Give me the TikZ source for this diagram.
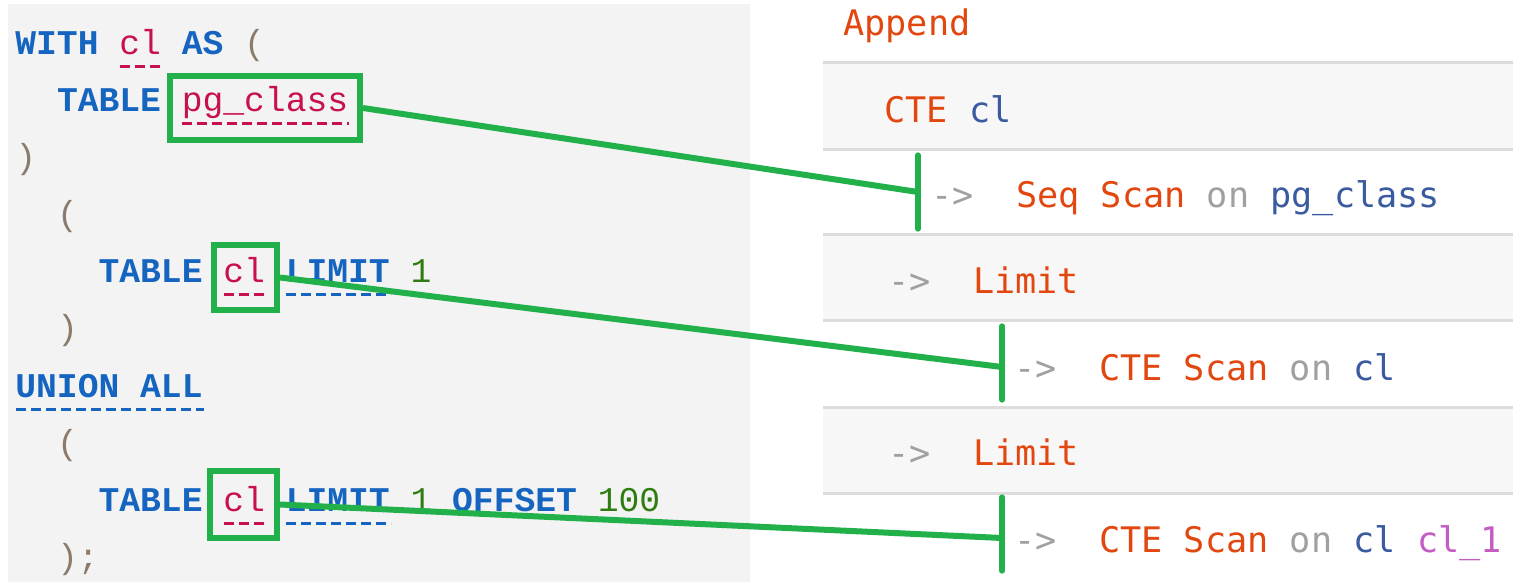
\documentclass[tikz,border=0pt]{standalone}
\usepackage{fontspec}
\newfontfamily\sqlfont{Liberation Mono}
\newfontfamily\planfont{DejaVu Sans Mono}
% SQL editor colours
\definecolor{kw}{HTML}{1565C0}
\definecolor{ident}{HTML}{C8104E}
\definecolor{num}{HTML}{2F7D10}
\definecolor{paren}{HTML}{8C7B6B}
\definecolor{editorbg}{HTML}{F3F3F3}
% plan viewer colours
\definecolor{opname}{HTML}{E2470F}
\definecolor{relname}{HTML}{3A5BA0}
\definecolor{arrowgray}{HTML}{A0A0A0}
\definecolor{aliasname}{HTML}{C45CC4}
\definecolor{rowbg}{HTML}{F7F7F7}
\definecolor{rowline}{HTML}{DCDCDC}
\definecolor{link}{HTML}{22B04B}
% keywords are bold, everything else regular
\newcommand{\kwd}[1]{\textcolor{kw}{\bfseries #1}}
\newcommand{\idt}[1]{\textcolor{ident}{#1}}
\newcommand{\nmb}[1]{\textcolor{num}{#1}}
\newcommand{\prn}[1]{\textcolor{paren}{#1}}
\tikzset{
  sql/.style={anchor=base west, inner sep=0pt,
    font={\sqlfont\fontsize{17.33pt}{20pt}\selectfont}},
  plan/.style={anchor=base west, inner sep=0pt,
    font={\planfont\fontsize{17.6pt}{20pt}\selectfont}},
  identdash/.style={draw=ident, line width=1.5pt, dash pattern=on 5pt off 2.5pt},
  kwdash/.style={draw=kw, line width=1.5pt, dash pattern=on 5pt off 2.5pt},
  gbox/.style={draw=link, line width=3pt, rectangle, inner sep=0pt},
  linkline/.style={draw=link, line width=3pt},
  linkbar/.style={draw=link, line width=2.6pt, line cap=round},
  sepline/.style={draw=rowline, line width=1.5pt},
}
\begin{document}
\begin{tikzpicture}[x=0.5pt, y=-0.5pt]
\useasboundingbox (0,0) rectangle (1513,582);
\fill[white] (0,0) rectangle (1513,582);

% ---------- SQL editor panel ----------
\fill[editorbg] (8,4) rectangle (750,582);

\node[sql] (s1) at (15,55) {\kwd{WITH}~\idt{cl}~\kwd{AS}~\prn{(}};
\node[sql] (s2) at (56.6,112) {\kwd{TABLE}~\idt{pg\_class}};
\node[sql] (s3) at (15,169) {\prn{)}};
\node[sql] (s4) at (56.6,226) {\prn{(}};
\node[sql] (s5) at (98.2,283) {\kwd{TABLE}~\idt{cl}~\kwd{LIMIT}~\nmb{1}};
\node[sql] (s6) at (56.6,340) {\prn{)}};
\node[sql] (s7) at (15,397) {\kwd{UNION~ALL}};
\node[sql] (s8) at (56.6,454) {\prn{(}};
\node[sql] (s9) at (98.2,511) {\kwd{TABLE}~\idt{cl}~\kwd{LIMIT}~\nmb{1}~\kwd{OFFSET}~\nmb{100}};
\node[sql] (s10) at (56.6,568) {\prn{);}};

% reference underlines
\draw[identdash] (120,67) -- (162,67);
\draw[identdash] (182,124) -- (349,124);
\draw[identdash] (224,295) -- (266,295);
\draw[kwdash] (286,295) -- (391,295);
\draw[kwdash] (16,409) -- (204,409);
\draw[identdash] (224,523) -- (266,523);
\draw[kwdash] (286,523) -- (391,523);

% ---------- plan panel ----------
\fill[rowbg] (823,63) rectangle (1513,150);
\fill[rowbg] (823,235) rectangle (1513,321);
\fill[rowbg] (823,407) rectangle (1513,493);
\foreach \yy in {63,150,235,321,407,493}
  \draw[sepline] (823,\yy) -- (1513,\yy);

\node[plan] (p0) at (843,36) {\textcolor{opname}{Append}};
\node[plan] (p1) at (884,123) {\textcolor{opname}{CTE}~\textcolor{relname}{cl}};
\node[plan] (p2) at (931,208) {\textcolor{arrowgray}{->}~~\textcolor{opname}{Seq~Scan}~\textcolor{arrowgray}{on}~\textcolor{relname}{pg\_class}};
\node[plan] (p3) at (888,293) {\textcolor{arrowgray}{->}~~\textcolor{opname}{Limit}};
\node[plan] (p4) at (1014,380) {\textcolor{arrowgray}{->}~~\textcolor{opname}{CTE~Scan}~\textcolor{arrowgray}{on}~\textcolor{relname}{cl}};
\node[plan] (p5) at (888,465) {\textcolor{arrowgray}{->}~~\textcolor{opname}{Limit}};
\node[plan] (p6) at (1014,552) {\textcolor{arrowgray}{->}~~\textcolor{opname}{CTE~Scan}~\textcolor{arrowgray}{on}~\textcolor{relname}{cl}~\textcolor{aliasname}{cl\_1}};

% ---------- links from SQL to plan ----------
\node[gbox, minimum width=95pt, minimum height=32pt] (b1) at (265,108) {};
\node[gbox, minimum width=31.5pt, minimum height=32.5pt] (b2) at (245.5,277.5) {};
\node[gbox, minimum width=33.5pt, minimum height=33.5pt] (b3) at (243.5,504.5) {};

\coordinate (j1) at (918,192);
\coordinate (j2) at (1002,367);
\coordinate (j3) at (1002,538);

\draw[linkline] (b1.east) -- (j1);
\draw[linkline] (b2.east) -- (j2);
\draw[linkline] (b3.east) -- (j3);

\draw[linkbar] (j1) ++(0,-37) -- ++(0,74);
\draw[linkbar] (j2) ++(0,-41) -- ++(0,74);
\draw[linkbar] (j3) ++(0,-41) -- ++(0,74);
\end{tikzpicture}
\end{document}
